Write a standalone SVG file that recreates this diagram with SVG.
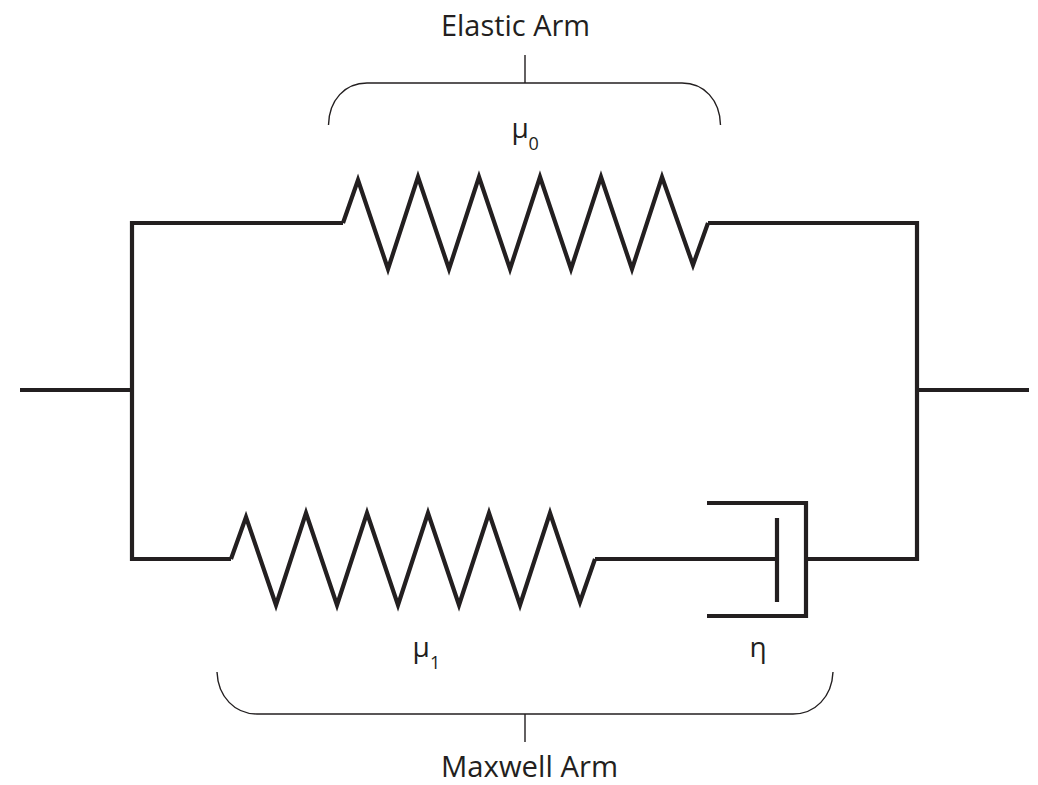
<svg xmlns="http://www.w3.org/2000/svg" width="1038" height="785" viewBox="0 0 1038 785">
<style>
.w{fill:none;stroke:#231f20;stroke-width:4.2;stroke-miterlimit:10}
.b{fill:none;stroke:#231f20;stroke-width:1.4}
text{font-family:"Open Sans","Liberation Sans",sans-serif;fill:#231f20;font-size:29px}
.g{font-size:28px}
.s{font-size:18px}
</style>
<rect width="1038" height="785" fill="#fff"/>
<g id="connectors">
<path class="w" d="M343 223H132V559H231M708 223H917V559H806M20 390H132M917 390H1029M595 559H777"/>
</g>
<g id="spring-top"><path class="w" d="M343 223L358 180L388 269L418 177L449 269L479 177L510 269L540 177L571 269L601 177L632 269L662 177L693 265L708 223"/></g>
<g id="spring-bottom"><path class="w" d="M231 559L246 517L276 605L306 513L337 605L367 513L398 605L428 513L459 605L489 513L520 605L550 513L580 602L595 559"/></g>
<g id="dashpot"><path class="w" d="M707 503H806V616H707M777 518V602"/></g>
<g id="elastic-brace"><path class="b" d="M328.500 125C329 100 345 83 367 83H682C704 83 720 100 720.500 125M525 55V83"/></g>
<g id="maxwell-brace"><path class="b" d="M217 672C218 697 235 714 257 714H793C815 714 832 697 833 672M525 714V742"/></g>
<g id="labels">
<text x="441" y="36" textLength="149" lengthAdjust="spacingAndGlyphs">Elastic Arm</text>
<text class="g" x="511.500" y="138">μ</text><text class="s" x="528.500" y="150">0</text>
<text class="g" x="412.500" y="657">μ</text><text class="s" x="430" y="669">1</text>
<text class="g" x="749.500" y="657">η</text>
<text x="441" y="777" textLength="177" lengthAdjust="spacingAndGlyphs">Maxwell Arm</text>
</g>
</svg>
